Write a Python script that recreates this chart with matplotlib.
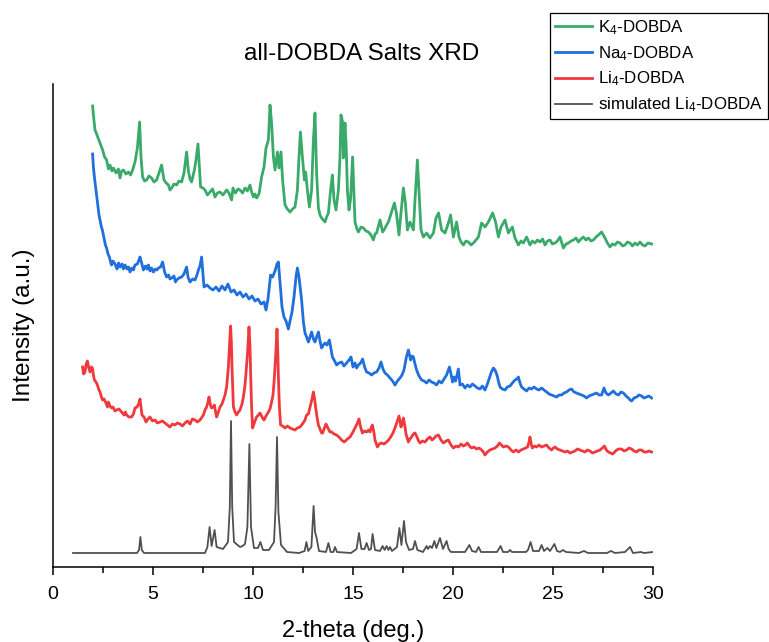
import numpy as np
import matplotlib
matplotlib.use("Agg")
import matplotlib.pyplot as plt

plt.rcParams["font.family"] = ["Liberation Sans", "DejaVu Sans"]
plt.rcParams["mathtext.fontset"] = "custom"
plt.rcParams["mathtext.rm"] = "Liberation Sans"
plt.rcParams["mathtext.default"] = "regular"

# === Data: (2-theta, intensity a.u.) ===
k4_dobda = np.array([
    (1.98, 461), (2.02, 452), (2.1, 437), (2.2, 432), (2.35, 424), (2.48, 417), (2.58, 410),
    (2.68, 407), (2.77, 398), (2.85, 402), (2.95, 396), (3.02, 399), (3.15, 394), (3.27, 398),
    (3.35, 389), (3.43, 396), (3.52, 397), (3.65, 393), (3.77, 395), (3.88, 392), (3.98, 397),
    (4.1, 405), (4.22, 419), (4.33, 445), (4.4, 410), (4.48, 390), (4.58, 386), (4.68, 387),
    (4.8, 391), (4.93, 389), (5.05, 385), (5.18, 387), (5.3, 394), (5.43, 402), (5.55, 387),
    (5.66, 384), (5.77, 382), (5.85, 377), (5.93, 379), (6.05, 383), (6.18, 382), (6.3, 386),
    (6.43, 385), (6.55, 394), (6.68, 415), (6.77, 396), (6.85, 388), (6.93, 385), (7.07, 397),
    (7.15, 407), (7.25, 423), (7.32, 400), (7.38, 380), (7.5, 379), (7.6, 377), (7.72, 372),
    (7.85, 375), (7.98, 378), (8.1, 370), (8.22, 374), (8.35, 375), (8.5, 372), (8.68, 377),
    (8.8, 374), (8.93, 367), (9.0, 379), (9.12, 374), (9.25, 378), (9.35, 377), (9.48, 374),
    (9.6, 379), (9.72, 376), (9.85, 382), (9.93, 375), (10.02, 370), (10.1, 373), (10.18, 369),
    (10.3, 373), (10.43, 390), (10.55, 400), (10.65, 419), (10.77, 427), (10.85, 462),
    (10.93, 444), (11.02, 410), (11.1, 397), (11.22, 415), (11.3, 399), (11.4, 415),
    (11.48, 387), (11.6, 362), (11.72, 358), (11.85, 355), (11.98, 358), (12.1, 360),
    (12.22, 377), (12.3, 410), (12.37, 435), (12.47, 410), (12.57, 387), (12.63, 395),
    (12.72, 377), (12.82, 360), (12.93, 377), (13.02, 427), (13.1, 454), (13.18, 394),
    (13.27, 359), (13.35, 352), (13.43, 349), (13.52, 347), (13.6, 345), (13.68, 350),
    (13.77, 354), (13.88, 377), (13.97, 392), (14.05, 367), (14.15, 357), (14.27, 377),
    (14.35, 410), (14.4, 452), (14.48, 445), (14.52, 409), (14.6, 444), (14.66, 420),
    (14.72, 377), (14.8, 357), (14.88, 368), (14.98, 410), (15.1, 345), (15.2, 338),
    (15.27, 335), (15.4, 340), (15.52, 339), (15.65, 336), (15.77, 335), (15.9, 332),
    (16.02, 327), (16.1, 333), (16.18, 334), (16.35, 347), (16.48, 335), (16.58, 338),
    (16.68, 342), (16.77, 345), (16.85, 350), (16.95, 356), (17.07, 364), (17.17, 354),
    (17.3, 332), (17.38, 350), (17.52, 379), (17.62, 364), (17.72, 337), (17.85, 345),
    (18.02, 337), (18.1, 367), (18.22, 407), (18.32, 367), (18.4, 337), (18.52, 330),
    (18.68, 334), (18.85, 329), (19.02, 334), (19.15, 349), (19.28, 354), (19.43, 337),
    (19.6, 334), (19.77, 344), (19.88, 352), (20.02, 330), (20.18, 345), (20.3, 330),
    (20.4, 325), (20.52, 322), (20.65, 326), (20.77, 325), (20.9, 322), (21.02, 324),
    (21.15, 327), (21.27, 330), (21.43, 344), (21.6, 340), (21.77, 345), (21.98, 354),
    (22.13, 345), (22.27, 330), (22.4, 340), (22.6, 347), (22.77, 334), (22.97, 340),
    (23.1, 329), (23.27, 322), (23.4, 326), (23.52, 324), (23.68, 330), (23.85, 322),
    (23.97, 326), (24.1, 324), (24.22, 327), (24.35, 325), (24.48, 328), (24.6, 322),
    (24.72, 326), (24.85, 327), (24.97, 323), (25.1, 324), (25.22, 326), (25.35, 330),
    (25.52, 319), (25.65, 323), (25.77, 324), (25.9, 326), (26.02, 327), (26.15, 329),
    (26.27, 325), (26.4, 328), (26.52, 330), (26.65, 327), (26.77, 329), (26.9, 326),
    (27.02, 327), (27.15, 330), (27.27, 332), (27.43, 335), (27.6, 329), (27.72, 324),
    (27.85, 320), (27.97, 323), (28.1, 322), (28.22, 325), (28.35, 324), (28.48, 321),
    (28.6, 322), (28.72, 325), (28.85, 324), (28.97, 321), (29.1, 324), (29.22, 322),
    (29.35, 325), (29.48, 322), (29.6, 321), (29.75, 324), (29.93, 323),
])

na4_dobda = np.array([
    (1.98, 413), (2.02, 400), (2.07, 390), (2.15, 377), (2.23, 364), (2.3, 352), (2.35, 347),
    (2.42, 340), (2.47, 337), (2.57, 327), (2.62, 322), (2.68, 319), (2.75, 313), (2.82, 310),
    (2.88, 305), (2.93, 302), (3.0, 306), (3.1, 303), (3.2, 298), (3.28, 304), (3.35, 300),
    (3.45, 303), (3.52, 298), (3.6, 302), (3.7, 298), (3.78, 300), (3.85, 295), (3.95, 299),
    (4.02, 297), (4.1, 302), (4.22, 303), (4.35, 310), (4.42, 305), (4.52, 297), (4.62, 301),
    (4.7, 298), (4.77, 302), (4.85, 296), (4.93, 299), (5.02, 295), (5.12, 298), (5.2, 297),
    (5.27, 299), (5.38, 300), (5.48, 305), (5.58, 295), (5.68, 290), (5.78, 292), (5.85, 288),
    (5.93, 289), (6.05, 291), (6.12, 285), (6.18, 287), (6.3, 289), (6.43, 290), (6.55, 293),
    (6.68, 300), (6.75, 290), (6.85, 285), (6.98, 288), (7.1, 287), (7.2, 292), (7.27, 297),
    (7.35, 301), (7.43, 310), (7.5, 292), (7.55, 280), (7.7, 282), (7.85, 279), (8.0, 277),
    (8.15, 280), (8.3, 276), (8.45, 281), (8.6, 277), (8.75, 283), (8.9, 275), (9.05, 277),
    (9.2, 272), (9.35, 275), (9.5, 270), (9.65, 273), (9.8, 268), (9.95, 271), (10.1, 266),
    (10.25, 268), (10.4, 263), (10.55, 265), (10.65, 257), (10.75, 268), (10.88, 292),
    (10.98, 290), (11.1, 296), (11.2, 303), (11.27, 305), (11.35, 285), (11.45, 260),
    (11.55, 250), (11.65, 246), (11.77, 238), (11.85, 246), (11.95, 255), (12.05, 270),
    (12.15, 290), (12.22, 299), (12.3, 290), (12.43, 267), (12.52, 245), (12.6, 234),
    (12.68, 230), (12.77, 225), (12.85, 230), (12.93, 235), (13.02, 228), (13.1, 225),
    (13.18, 230), (13.27, 235), (13.35, 226), (13.43, 219), (13.52, 222), (13.6, 224),
    (13.7, 222), (13.82, 227), (13.9, 218), (13.97, 210), (14.08, 206), (14.18, 202),
    (14.3, 204), (14.43, 205), (14.55, 201), (14.68, 204), (14.8, 207), (14.9, 210),
    (15.0, 200), (15.1, 204), (15.18, 199), (15.27, 202), (15.38, 204), (15.48, 208),
    (15.58, 200), (15.68, 195), (15.8, 194), (15.93, 192), (16.05, 194), (16.18, 195),
    (16.3, 199), (16.4, 205), (16.5, 198), (16.6, 194), (16.72, 192), (16.85, 189),
    (16.98, 186), (17.1, 182), (17.22, 186), (17.35, 189), (17.45, 192), (17.55, 197),
    (17.67, 210), (17.77, 217), (17.88, 207), (17.95, 211), (18.02, 210), (18.1, 203),
    (18.18, 197), (18.3, 191), (18.43, 187), (18.55, 186), (18.68, 184), (18.8, 187),
    (18.93, 185), (19.05, 184), (19.18, 182), (19.3, 186), (19.43, 184), (19.55, 188),
    (19.68, 192), (19.82, 200), (19.9, 193), (19.98, 185), (20.05, 190), (20.13, 186),
    (20.27, 198), (20.35, 182), (20.47, 183), (20.6, 179), (20.72, 182), (20.85, 180),
    (20.97, 183), (21.1, 181), (21.22, 179), (21.35, 178), (21.47, 181), (21.6, 177),
    (21.72, 183), (21.82, 189), (21.92, 195), (22.02, 199), (22.1, 197), (22.2, 192),
    (22.28, 185), (22.35, 180), (22.47, 178), (22.6, 177), (22.72, 180), (22.85, 181),
    (22.97, 184), (23.1, 187), (23.2, 188), (23.27, 190), (23.35, 184), (23.43, 180),
    (23.55, 178), (23.68, 176), (23.8, 179), (23.93, 178), (24.05, 180), (24.18, 178),
    (24.3, 177), (24.43, 179), (24.55, 177), (24.68, 175), (24.8, 173), (24.93, 172),
    (25.05, 171), (25.18, 170), (25.3, 172), (25.43, 172), (25.55, 174), (25.68, 175),
    (25.8, 177), (25.93, 178), (26.05, 175), (26.18, 174), (26.3, 173), (26.43, 172),
    (26.55, 171), (26.68, 169), (26.8, 171), (26.93, 172), (27.05, 173), (27.18, 174),
    (27.3, 172), (27.43, 172), (27.55, 179), (27.65, 174), (27.77, 172), (27.9, 174),
    (28.02, 176), (28.15, 173), (28.27, 172), (28.4, 175), (28.52, 174), (28.65, 171),
    (28.77, 169), (28.85, 167), (28.93, 166), (29.05, 169), (29.18, 170), (29.3, 172),
    (29.43, 171), (29.55, 169), (29.68, 170), (29.8, 171), (29.93, 169),
])

li4_dobda = np.array([
    (1.48, 200), (1.53, 193), (1.6, 195), (1.66, 203), (1.72, 206), (1.78, 200), (1.85, 195),
    (1.92, 200), (1.97, 199), (2.02, 192), (2.07, 187), (2.15, 185), (2.22, 182), (2.28, 178),
    (2.35, 175), (2.42, 170), (2.48, 167), (2.55, 168), (2.65, 164), (2.72, 160), (2.77, 165),
    (2.85, 161), (2.93, 159), (3.0, 160), (3.1, 156), (3.18, 157), (3.3, 158), (3.43, 155),
    (3.55, 152), (3.62, 155), (3.68, 152), (3.8, 150), (3.93, 150), (4.02, 153), (4.1, 159),
    (4.2, 160), (4.28, 163), (4.35, 168), (4.4, 160), (4.45, 152), (4.55, 150), (4.65, 145),
    (4.75, 148), (4.85, 150), (4.97, 146), (5.1, 147), (5.22, 144), (5.35, 145), (5.47, 146),
    (5.6, 144), (5.72, 142), (5.85, 140), (5.97, 143), (6.1, 142), (6.22, 144), (6.35, 143),
    (6.47, 141), (6.6, 144), (6.72, 146), (6.85, 143), (6.97, 148), (7.1, 147), (7.22, 145),
    (7.35, 147), (7.45, 150), (7.52, 152), (7.6, 157), (7.68, 160), (7.75, 165), (7.8, 170),
    (7.87, 162), (7.93, 159), (8.0, 160), (8.07, 162), (8.12, 156), (8.18, 150), (8.27, 155),
    (8.35, 160), (8.45, 163), (8.52, 167), (8.6, 172), (8.68, 180), (8.77, 200), (8.83, 224),
    (8.88, 241), (8.92, 224), (8.95, 200), (9.0, 170), (9.02, 160), (9.1, 155), (9.18, 152),
    (9.27, 155), (9.35, 157), (9.45, 163), (9.52, 170), (9.6, 182), (9.65, 194), (9.73, 215),
    (9.8, 240), (9.85, 220), (9.88, 195), (9.93, 160), (9.98, 139), (10.08, 145), (10.18, 150),
    (10.27, 152), (10.35, 154), (10.45, 150), (10.55, 147), (10.65, 151), (10.77, 155),
    (10.85, 158), (10.93, 165), (11.0, 172), (11.05, 184), (11.13, 210), (11.2, 238),
    (11.24, 215), (11.27, 190), (11.32, 160), (11.38, 142), (11.48, 141), (11.6, 139),
    (11.72, 141), (11.85, 139), (11.97, 138), (12.1, 137), (12.22, 139), (12.35, 140),
    (12.47, 143), (12.6, 147), (12.68, 152), (12.77, 153), (12.88, 162), (12.95, 168),
    (13.02, 175), (13.08, 168), (13.13, 160), (13.2, 150), (13.27, 142), (13.35, 138),
    (13.43, 134), (13.48, 134), (13.57, 139), (13.65, 143), (13.72, 140), (13.85, 135),
    (13.93, 135), (14.05, 133), (14.18, 132), (14.3, 130), (14.43, 127), (14.55, 125),
    (14.62, 126), (14.72, 128), (14.85, 130), (14.97, 134), (15.1, 139), (15.2, 143),
    (15.3, 148), (15.38, 140), (15.47, 134), (15.58, 136), (15.68, 135), (15.78, 137),
    (15.85, 135), (15.92, 140), (15.97, 142), (16.05, 134), (16.1, 127), (16.22, 120),
    (16.32, 123), (16.43, 124), (16.55, 123), (16.68, 125), (16.78, 127), (16.88, 130),
    (17.0, 134), (17.1, 139), (17.2, 145), (17.3, 151), (17.4, 140), (17.46, 144),
    (17.52, 149), (17.6, 140), (17.65, 133), (17.77, 125), (17.85, 128), (17.93, 130),
    (18.02, 133), (18.1, 134), (18.2, 130), (18.28, 126), (18.35, 124), (18.47, 126),
    (18.6, 125), (18.72, 128), (18.85, 130), (18.95, 127), (19.02, 128), (19.15, 131),
    (19.27, 132), (19.4, 127), (19.52, 124), (19.65, 126), (19.77, 127), (19.9, 122),
    (20.02, 119), (20.15, 121), (20.27, 120), (20.4, 123), (20.52, 121), (20.62, 122),
    (20.72, 124), (20.82, 121), (20.93, 119), (21.05, 120), (21.18, 118), (21.3, 119),
    (21.43, 117), (21.52, 115), (21.6, 112), (21.72, 115), (21.85, 117), (21.97, 118),
    (22.1, 119), (22.22, 121), (22.32, 124), (22.42, 122), (22.52, 120), (22.65, 121),
    (22.77, 120), (22.9, 117), (23.02, 115), (23.15, 117), (23.27, 115), (23.4, 117),
    (23.52, 118), (23.62, 119), (23.73, 120), (23.8, 125), (23.85, 130), (23.92, 122),
    (23.97, 119), (24.07, 121), (24.18, 120), (24.3, 122), (24.43, 120), (24.55, 121),
    (24.68, 122), (24.8, 119), (24.93, 117), (25.02, 119), (25.1, 120), (25.22, 118),
    (25.35, 117), (25.47, 116), (25.6, 115), (25.72, 116), (25.85, 114), (25.97, 115),
    (26.1, 116), (26.22, 118), (26.35, 117), (26.47, 116), (26.6, 115), (26.72, 117),
    (26.85, 116), (26.97, 114), (27.1, 115), (27.22, 116), (27.35, 117), (27.47, 119),
    (27.57, 121), (27.67, 117), (27.77, 115), (27.88, 114), (27.98, 113), (28.08, 115),
    (28.18, 117), (28.3, 118), (28.43, 118), (28.55, 116), (28.68, 117), (28.8, 119),
    (28.93, 118), (29.05, 116), (29.18, 115), (29.3, 117), (29.43, 117), (29.55, 115),
    (29.68, 115), (29.8, 116), (29.93, 115),
])

sim_li4_dobda = np.array([
    (1.0, 14), (4.2, 14), (4.3, 17), (4.37, 30), (4.44, 17), (4.55, 14), (7.6, 14), (7.72, 20),
    (7.83, 40), (7.93, 21), (8.08, 37), (8.18, 20), (8.5, 18), (8.75, 25), (8.84, 60),
    (8.9, 146), (8.96, 60), (9.05, 25), (9.35, 20), (9.48, 21), (9.6, 23), (9.72, 40),
    (9.82, 123), (9.9, 40), (10.05, 19), (10.25, 19), (10.37, 25), (10.5, 17), (10.8, 17),
    (11.05, 25), (11.13, 60), (11.2, 130), (11.27, 55), (11.4, 22), (11.7, 15), (12.3, 14),
    (12.58, 16), (12.67, 25), (12.76, 16), (12.92, 20), (13.03, 61), (13.1, 35), (13.17, 30),
    (13.3, 16), (13.65, 15), (13.77, 24), (13.88, 15), (14.02, 15), (14.1, 20), (14.2, 15),
    (14.9, 14), (15.18, 18), (15.3, 34), (15.42, 18), (15.58, 18), (15.68, 24), (15.8, 17),
    (15.9, 18), (15.98, 33), (16.1, 17), (16.35, 16), (16.48, 21), (16.58, 17), (16.68, 21),
    (16.77, 17), (16.85, 20), (16.95, 16), (17.2, 20), (17.32, 39), (17.42, 22), (17.55, 46),
    (17.65, 25), (17.8, 17), (18.0, 18), (18.1, 26), (18.22, 17), (18.5, 15), (18.68, 21),
    (18.75, 18), (18.85, 21), (18.95, 19), (19.07, 26), (19.17, 19), (19.35, 29), (19.5, 18),
    (19.68, 26), (19.78, 18), (19.9, 15), (20.6, 15), (20.82, 22), (20.95, 16), (21.15, 15),
    (21.28, 20), (21.4, 15), (22.2, 15), (22.38, 21), (22.5, 15), (22.75, 15), (22.85, 17),
    (22.95, 15), (23.65, 15), (23.75, 17), (23.88, 25), (24.0, 16), (24.3, 16), (24.43, 22),
    (24.55, 16), (24.72, 19), (24.85, 16), (25.07, 23), (25.2, 16), (25.35, 15), (25.5, 17),
    (25.65, 15), (26.3, 14), (26.55, 16), (26.75, 14), (27.7, 14), (27.9, 16), (28.1, 14),
    (28.6, 15), (28.85, 20), (29.0, 14), (29.4, 15), (29.55, 14), (30.0, 15),
])

series = [
    (k4_dobda, r"K$_4$-DOBDA", "#3aaa6a", 2.0),
    (na4_dobda, r"Na$_4$-DOBDA", "#1f6fdc", 2.0),
    (li4_dobda, r"Li$_4$-DOBDA", "#f0393c", 2.0),
    (sim_li4_dobda, r"simulated Li$_4$-DOBDA", "#505050", 1.3),
]

fig = plt.figure(figsize=(7.69, 6.42), dpi=100)
ax = fig.add_axes([53 / 769, 1 - 567 / 642, 600 / 769, 483 / 642])

for data, label, color, lw in series:
    ax.plot(data[:, 0], data[:, 1], color=color, linewidth=lw, label=label)

ax.set_xlim(0, 30)
ax.set_ylim(0, 483)
ax.set_xticks(np.arange(0, 31, 5))
ax.set_xticks(np.arange(2.5, 30, 5), minor=True)
ax.set_yticks([])
ax.spines["top"].set_visible(False)
ax.spines["right"].set_visible(False)
ax.spines["left"].set_linewidth(1.1)
ax.spines["bottom"].set_linewidth(1.1)
ax.tick_params(axis="x", which="major", direction="out", length=6, width=1.1, labelsize=14, pad=8)
ax.tick_params(axis="x", which="minor", direction="out", length=4, width=1.1)

ax.set_xlabel("2-theta (deg.)", fontsize=17, labelpad=12)
ax.set_ylabel("Intensity (a.u.)", fontsize=17.5, labelpad=13)
fig.text(362 / 769, 1 - 60 / 642, "all-DOBDA Salts XRD", fontsize=17.5,
         ha="center", va="baseline")

leg = ax.legend(loc="upper right", bbox_to_anchor=(768 / 769, 1 - 13 / 642),
                bbox_transform=fig.transFigure, fontsize=12.2, frameon=True, fancybox=False,
                edgecolor="black", framealpha=1, borderaxespad=0, handlelength=2.2,
                handletextpad=0.35, labelspacing=0.42, borderpad=0.3)
leg.get_frame().set_linewidth(0.9)

fig.savefig("out.png", dpi=100)
